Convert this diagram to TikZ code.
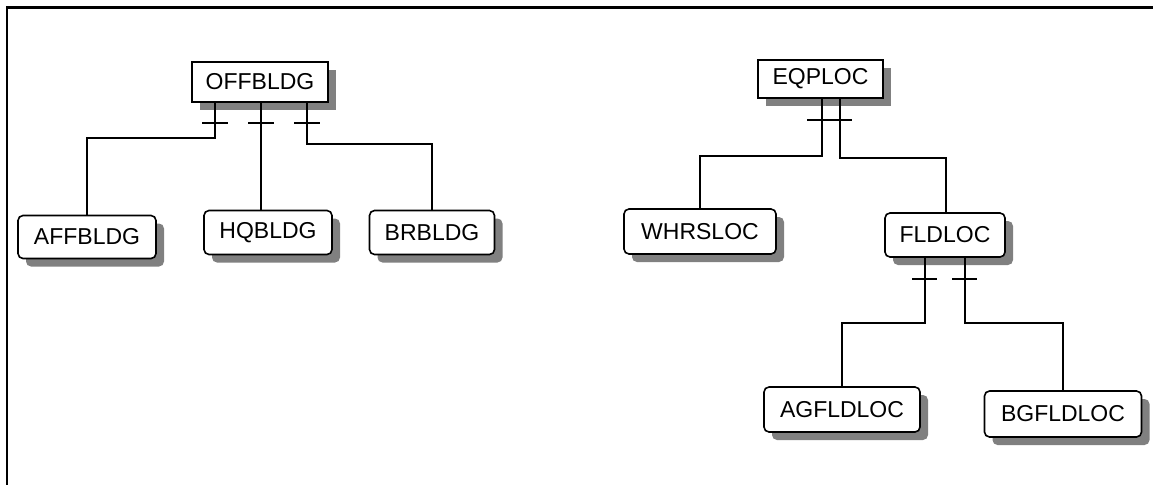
\documentclass[tikz,border=0pt]{standalone}
\usepackage{fontspec}
\setmainfont{Liberation Sans}
\usetikzlibrary{calc,shadows}
\begin{document}
\begin{tikzpicture}[x=1pt,y=-1pt,
  ent/.style={draw=black, line width=1.6pt, fill=white, inner sep=0pt,
    minimum height=42pt, font=\fontsize{23}{23}\selectfont,
    general shadow={fill=black!50, shadow xshift=8pt, shadow yshift=-8pt}},
  topent/.style={ent, minimum height=40pt},
  subent/.style={ent, rounded corners=5pt},
  conn/.style={draw=black, line width=1.6pt},
  frame/.style={draw=black, line width=2.6pt}]
\useasboundingbox (0,0) rectangle (1153,485);
% frame
\coordinate (ftr) at (1153,7.5);
\coordinate (ftl) at (7,7.5);
\coordinate (fbl) at (7,485);
\draw[frame] (ftr) -- (ftl) -- (fbl);
% nodes
\node[topent, minimum width=136pt] (off) at (260,82) {OFFBLDG};
\node[subent, minimum width=138pt, minimum height=43pt] (aff) at (87,237) {AFFBLDG};
\node[subent, minimum width=128pt, minimum height=44pt] (hq) at (268,232.5) {HQBLDG};
\node[subent, minimum width=125pt, minimum height=44pt] (br) at (432,232.5) {BRBLDG};
\node[topent, minimum width=125pt, minimum height=38pt] (eq) at (820.5,79) {EQPLOC};
\node[subent, minimum width=152pt, minimum height=45pt] (wh) at (700,231.5) {WHRSLOC};
\node[subent, minimum width=120pt, minimum height=44pt] (fld) at (945,235) {FLDLOC};
\node[subent, minimum width=156pt, minimum height=45pt] (ag) at (842,409.5) {AGFLDLOC};
\node[subent, minimum width=157pt, minimum height=46pt] (bg) at (1063,414) {BGFLDLOC};
% OFFBLDG connectors
\draw[conn] ([xshift=-45pt]off.south) -- ++(0,35) -| (aff.north);
\draw[conn] ([xshift=1pt]off.south) -- ([xshift=1pt]off.south |- hq.north);
\draw[conn] ([xshift=47pt]off.south) -- ++(0,41) -| (br.north);
\draw[conn] ([xshift=-45pt,yshift=-20pt]off.south) +(-13,0) -- +(13,0);
\draw[conn] ([xshift=1pt,yshift=-20pt]off.south) +(-13,0) -- +(13,0);
\draw[conn] ([xshift=47pt,yshift=-20pt]off.south) +(-13,0) -- +(13,0);
% EQPLOC connectors
\draw[conn] ([xshift=1.5pt]eq.south) -- ++(0,57) -| (wh.north);
\draw[conn] ([xshift=19.5pt]eq.south) -- ++(0,59) -| ([xshift=1pt]fld.north);
\draw[conn] ([xshift=-13.5pt,yshift=-21pt]eq.south) -- ([xshift=31.5pt,yshift=-21pt]eq.south);
% FLDLOC connectors
\draw[conn] ([xshift=-20pt]fld.south) -- ++(0,65) -| (ag.north);
\draw[conn] ([xshift=20pt]fld.south) -- ++(0,65) -| (bg.north);
\draw[conn] ([xshift=-20pt,yshift=-21pt]fld.south) +(-13,0) -- +(12,0);
\draw[conn] ([xshift=20pt,yshift=-21pt]fld.south) +(-13,0) -- +(12,0);
\end{tikzpicture}
\end{document}
